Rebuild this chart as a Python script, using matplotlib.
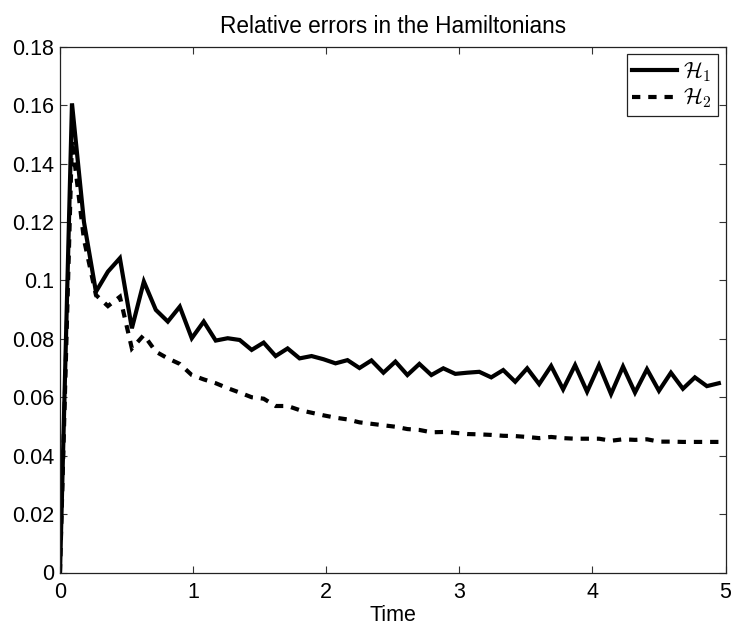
import numpy as np
import matplotlib
matplotlib.use("Agg")
import matplotlib.pyplot as plt

plt.rcParams['font.family'] = ['Liberation Sans', 'DejaVu Sans']
plt.rcParams['mathtext.fontset'] = 'cm'

# sampling grid of the run (dt = 0.09)
time = np.arange(56) * 0.09

# relative error of H1
err_h1 = [0.0, 0.1606, 0.120, 0.0961, 0.103, 0.1076, 0.0836, 0.0996, 0.0899, 0.0859,
          0.091, 0.0802, 0.0859, 0.0794, 0.0802, 0.0796, 0.0762, 0.0787, 0.0741, 0.0767,
          0.0733, 0.0741, 0.0730, 0.0716, 0.0727, 0.0700, 0.0726, 0.0684, 0.0722, 0.0676,
          0.0714, 0.0676, 0.0699, 0.0680, 0.0684, 0.0687, 0.0668, 0.0693, 0.0653, 0.0699,
          0.0645, 0.0707, 0.0627, 0.0710, 0.0619, 0.0710, 0.0611, 0.0705, 0.0616, 0.0696,
          0.0622, 0.0684, 0.0629, 0.0668, 0.0638, 0.0648]

# relative error of H2
err_h2 = [0.0, 0.148, 0.114, 0.095, 0.0912, 0.0944, 0.0767, 0.0813, 0.0756, 0.0733,
          0.0714, 0.0676, 0.0661, 0.0648, 0.0631, 0.0616, 0.0600, 0.0595, 0.0570, 0.0570,
          0.0556, 0.0547, 0.0538, 0.0530, 0.0524, 0.0514, 0.0509, 0.0504, 0.0499, 0.0491,
          0.0488, 0.0480, 0.0481, 0.0478, 0.0474, 0.0473, 0.0471, 0.0468, 0.0467, 0.0464,
          0.0460, 0.0464, 0.0460, 0.0458, 0.0458, 0.0458, 0.0451, 0.0456, 0.0454, 0.0456,
          0.0448, 0.0448, 0.0447, 0.0447, 0.0447, 0.0447]

xticks = [0, 1, 2, 3, 4, 5]
yticks = [0, 0.02, 0.04, 0.06, 0.08, 0.1, 0.12, 0.14, 0.16, 0.18]
ytick_labels = ['0', '0.02', '0.04', '0.06', '0.08', '0.1', '0.12', '0.14', '0.16', '0.18']

fs = 15.5

fig = plt.figure(figsize=(7.34, 6.25), dpi=100)
ax = fig.add_axes([60 / 734, (625 - 572.5) / 625, (725.5 - 60) / 734, (572.5 - 46.7) / 625])

ax.plot(time, err_h1, color='k', lw=3, solid_joinstyle='miter', label=r'$\mathcal{H}_1$')
ax.plot(time, err_h2, color='k', lw=3, ls=(0, (2.0, 1.9)), dash_capstyle='butt',
        dash_joinstyle='miter', label=r'$\mathcal{H}_2$')

ax.set_xlim(0, 5)
ax.set_ylim(0, 0.18)
ax.set_xticks(xticks)
ax.set_xticklabels([str(v) for v in xticks])
ax.set_yticks(yticks)
ax.set_yticklabels(ytick_labels)
ax.tick_params(direction='in', length=5, width=0.8, top=True, right=True,
               labelsize=fs, color='#333333')
ax.tick_params(axis='x', pad=7)
ax.tick_params(axis='y', pad=4)
for s in ax.spines.values():
    s.set_linewidth(0.9)
    s.set_color('#222222')

ax.set_title('Relative errors in the Hamiltonians', fontsize=16.3, pad=10)
ax.set_xlabel('Time', fontsize=fs, labelpad=1)

leg = ax.legend(loc='upper right', fontsize=16, frameon=True, fancybox=False,
                edgecolor='#222222', framealpha=1, borderaxespad=0.35,
                handlelength=2.0, handletextpad=0.3, borderpad=0.25,
                labelspacing=0.12)
leg.get_frame().set_linewidth(0.9)

fig.savefig('out.png', dpi=100)
